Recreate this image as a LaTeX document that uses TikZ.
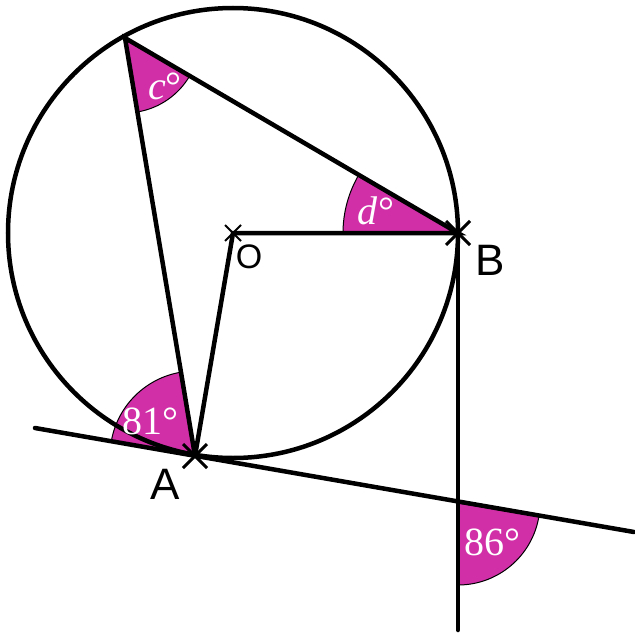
\documentclass[tikz,border=0pt]{standalone}
\usepackage{fontspec}
\setsansfont{Liberation Sans}
\setmainfont{Liberation Serif}
\begin{document}
\begin{tikzpicture}[x=1pt,y=1pt,
  sect/.style={fill=mag,draw=black,line width=1pt},
  thick line/.style={line width=4.5pt,line cap=round},
  lbl/.style={text=white,font=\fontsize{40}{40}\selectfont},
  pt/.style={font=\sffamily\fontsize{44}{44}\selectfont}]
\definecolor{mag}{HTML}{D12FA8}
\useasboundingbox (0,0) rectangle (634,-642);
\coordinate (O) at (233,-233);
\coordinate (A) at (195,-456);
\coordinate (B) at (458,-233);
\coordinate (C) at (125,-38);
\coordinate (P) at (458,-503);
\coordinate (T1) at (35,-428);
\coordinate (T2) at (634,-532);
\coordinate (V) at (458,-630);
% sectors
\draw[sect] (A) -- ++(99.5:85) arc (99.5:170.1:85) -- cycle;
\draw[sect] (C) -- ++(-80.5:75) arc (-80.5:-30.4:75) -- cycle;
\draw[sect] (B) -- ++(149.6:115) arc (149.6:180:115) -- cycle;
\draw[sect] (P) -- ++(-90:82) arc (-90:-9.4:82) -- cycle;
% lines
\draw[line width=4.5pt] (O) circle (225);
\draw[thick line] (T1) -- (T2);
\draw[thick line] (B) -- (V);
\draw[thick line] (A) -- (C) -- (B) -- (O) -- (A);
% crosses
\draw[line width=2pt] (O) ++(-8,-8) -- ++(16,16) (O) ++(-8,8) -- ++(16,-16);
\foreach \p in {A,B}
  \draw[line width=3pt] (\p) ++(-12,-12) -- ++(24,24) (\p) ++(-12,12) -- ++(24,-24);
% labels
\node[lbl] (lc) at (165,-86) {\textit{c}°};
\node[lbl] (ld) at (376,-211) {\textit{d}°};
\node[lbl] (l81) at (150,-421) {81°};
\node[lbl] (l86) at (492,-542) {86°};
\node[pt,font=\sffamily\fontsize{34}{34}\selectfont] (lo) at (249,-257) {O};
\node[pt] (lb) at (490,-260) {B};
\node[pt] (la) at (165,-484) {A};
\end{tikzpicture}
\end{document}
